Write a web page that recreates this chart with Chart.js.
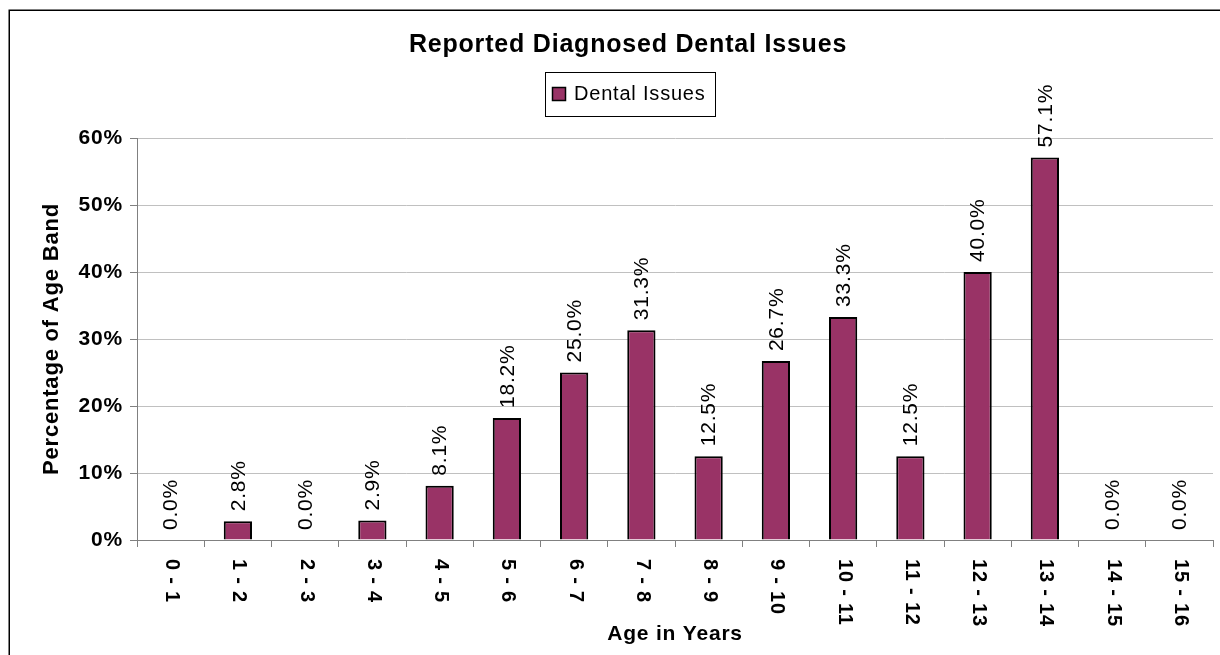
<!DOCTYPE html>
<html>
<head>
<meta charset="utf-8">
<script src="https://cdn.jsdelivr.net/npm/chart.js@4.4.0/dist/chart.umd.min.js"></script>
<style>
  html, body { margin: 0; padding: 0; background: #fff; overflow: hidden; }
  canvas { display: block; }
</style>
</head>
<body>
<canvas id="chart" width="1220" height="655"></canvas>
<script>
const chartTitle = 'Reported Diagnosed Dental Issues';
const seriesName = 'Dental Issues';
const xTitle = 'Age in Years';
const yTitle = 'Percentage of Age Band';
const ageBands = ['0 - 1', '1 - 2', '2 - 3', '3 - 4', '4 - 5', '5 - 6', '6 - 7', '7 - 8',
  '8 - 9', '9 - 10', '10 - 11', '11 - 12', '12 - 13', '13 - 14', '14 - 15', '15 - 16'];
const dentalIssues = [0.0, 2.8, 0.0, 2.9, 8.1, 18.2, 25.0, 31.3, 12.5, 26.7, 33.3, 12.5, 40.0, 57.1, 0.0, 0.0];
const yMax = 60;
const yStep = 10;

const FONT = '"Liberation Sans", Arial, sans-serif';
const SPACING = '0.8px';
const BAR_COLOR = '#993366';

Chart.defaults.font.family = FONT;
Chart.defaults.color = '#000';

function set_spacing(chart) {
  chart.ctx.letterSpacing = SPACING;
}

// everything excel draws that chart.js does not do the same way
const excel_look = {
  id: 'excel_look',
  beforeLayout: set_spacing,
  beforeDraw(chart) {
    const ctx = chart.ctx;
    set_spacing(chart);
    ctx.save();
    ctx.fillStyle = '#fff';
    ctx.fillRect(0, 0, chart.width, chart.height);
    ctx.restore();
  },
  afterDraw(chart) {
    const ctx = chart.ctx;
    const x = chart.scales.x;
    const y = chart.scales.y;
    const meta = chart.getDatasetMeta(0);

    // value labels above the bars, reading upwards
    ctx.save();
    ctx.fillStyle = '#000';
    ctx.font = `21px ${FONT}`;
    ctx.textAlign = 'left';
    ctx.textBaseline = 'middle';
    meta.data.forEach((bar, i) => {
      ctx.save();
      ctx.translate(bar.x + 1, y.getPixelForValue(dentalIssues[i]) - 10);
      ctx.rotate(-Math.PI / 2);
      ctx.fillText(dentalIssues[i].toFixed(1) + '%', 0, 0);
      ctx.restore();
    });

    // category labels, reading downwards
    ctx.font = `bold 20px ${FONT}`;
    ageBands.forEach((label, i) => {
      ctx.save();
      ctx.translate(x.getPixelForValue(i) + 1, y.bottom + 19);
      ctx.rotate(Math.PI / 2);
      ctx.fillText(label, 0, 0);
      ctx.restore();
    });

    // title
    ctx.font = `bold 25px ${FONT}`;
    ctx.textAlign = 'center';
    ctx.textBaseline = 'alphabetic';
    ctx.fillText(chartTitle, 628, 52);

    // legend box
    ctx.lineWidth = 1;
    ctx.strokeStyle = '#000';
    ctx.strokeRect(545.5, 72.5, 170, 44);
    ctx.fillStyle = BAR_COLOR;
    ctx.fillRect(552, 87, 14, 14);
    ctx.lineWidth = 1.5;
    ctx.strokeRect(552.5, 87.5, 13, 13);
    ctx.fillStyle = '#000';
    ctx.font = `20px ${FONT}`;
    ctx.textAlign = 'left';
    ctx.fillText(seriesName, 574, 100);

    // outer chart border
    ctx.lineWidth = 1.5;
    ctx.strokeRect(9.25, 10.25, 1300, 1000);
    ctx.restore();
  }
};

const ctx = document.getElementById('chart').getContext('2d');
const chart = new Chart(ctx, {
  type: 'bar',
  data: {
    labels: ageBands,
    datasets: [{
      label: seriesName,
      data: dentalIssues,
      backgroundColor: BAR_COLOR,
      borderColor: '#000',
      borderWidth: 2,
      barPercentage: 0.42,
      categoryPercentage: 1
    }]
  },
  options: {
    responsive: false,
    animation: false,
    layout: {padding: {left: 9, top: 138, right: 7, bottom: 0}},
    plugins: {
      legend: {display: false},
      title: {display: false},
      tooltip: {enabled: false}
    },
    scales: {
      x: {
        grid: {
          offset: true,
          drawOnChartArea: false,
          drawTicks: true,
          tickLength: 7,
          tickColor: '#808080'
        },
        border: {color: '#808080', width: 1},
        ticks: {display: false},
        title: {
          display: true,
          text: xTitle,
          font: {size: 21, weight: 'bold'},
          padding: {top: 0, bottom: 8}
        },
        afterFit: (scale) => { scale.height = 115; }
      },
      y: {
        min: 0,
        max: yMax,
        grid: {
          color: (c) => (c.tick && c.tick.value === 0 ? '#808080' : '#c0c0c0'),
          tickColor: '#808080',
          tickLength: 7
        },
        border: {color: '#808080', width: 1},
        ticks: {
          stepSize: yStep,
          padding: 7,
          font: {size: 21, weight: 'bold'},
          callback: (v) => v + '%'
        },
        title: {
          display: true,
          text: yTitle,
          font: {size: 22, weight: 'bold'},
          padding: {top: 30, bottom: 0}
        },
        afterFit: (scale) => { scale.width = 128; }
      }
    }
  },
  plugins: [excel_look]
});
</script>
</body>
</html>
